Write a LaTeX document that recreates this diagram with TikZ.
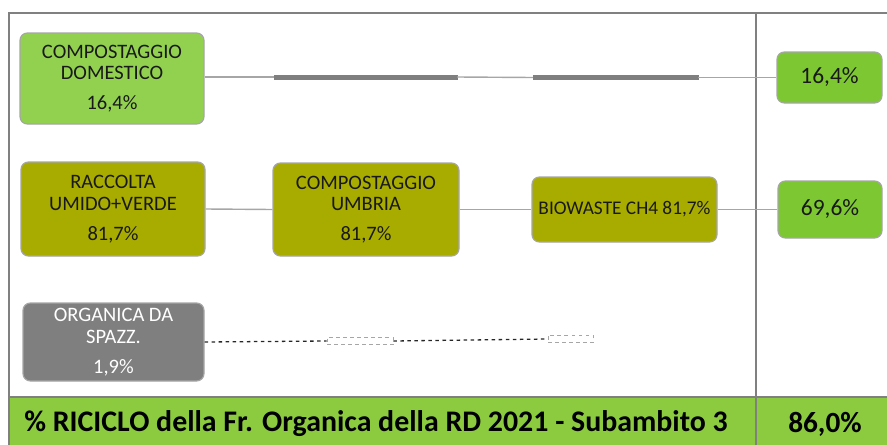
\documentclass[tikz,border=0pt]{standalone}
\usepackage{fontspec}
\setmainfont{Carlito}
\usepackage{tikz}
\usetikzlibrary{positioning}
\definecolor{lgreen}{HTML}{92D050}
\definecolor{rgreen}{HTML}{7DC832}
\definecolor{bandgreen}{HTML}{8CCB3F}
\definecolor{olive}{HTML}{A9AC00}
\definecolor{boxgray}{HTML}{7F7F7F}
\definecolor{framegray}{HTML}{808080}
\definecolor{linkgray}{HTML}{A6A6A6}
\tikzset{
	flowbox/.style={draw=linkgray, line width=1pt, rounded corners=0.22cm, align=center,
		font=\fontsize{17.5}{18.5}\selectfont, text=black!90, inner sep=0pt},
	outbox/.style={flowbox, fill=rgreen, font=\fontsize{20}{21}\selectfont},
	flatbar/.style={fill=boxgray, draw=boxgray, inner sep=0pt, minimum height=0.13cm},
	ghost/.style={draw=black!35, dashed, line width=0.5pt, inner sep=0pt, minimum height=0.22cm},
	link/.style={draw=linkgray, line width=1.2pt},
	droplink/.style={draw=black!85, dashed, line width=1.1pt}
}
\begin{document}
\begin{tikzpicture}[x=0.03cm, y=-0.03cm]
			\useasboundingbox (0,0) rectangle (887,445);
			% bottom band
			\filldraw[fill=bandgreen, draw=framegray, line width=1.5pt] (9,397) rectangle (890,448);
			\node (title) at (376,424) {\fontsize{25.5}{27}\selectfont\bfseries \% RICICLO della Fr. Organica della RD 2021 - Subambito 3};
			\node (total) at (825,424) {\fontsize{25}{27}\selectfont\bfseries 86,0\%};
			% frame
			\draw[framegray, line width=2pt] (9,445) -- (9,13) -- (890,13);
			\draw[framegray, line width=1.5pt] (756,13) -- (756,445);
			% boxes
			\node[flowbox, fill=lgreen, minimum width=184*0.03cm, minimum height=91*0.03cm] (dom) at (112,78.5)
				{COMPOSTAGGIO\\DOMESTICO\\[7pt]16,4\%};
			\node[outbox, minimum width=105*0.03cm, minimum height=51*0.03cm] (domout) at (829.5,77.5) {16,4\%};
			\node[flowbox, fill=olive, minimum width=184*0.03cm, minimum height=94*0.03cm] (rac) at (113,209)
				{RACCOLTA\\UMIDO+VERDE\\[7pt]81,7\%};
			\node[flowbox, fill=olive, minimum width=186*0.03cm, minimum height=93*0.03cm] (umb) at (366,209.5)
				{COMPOSTAGGIO\\UMBRIA\\[7pt]81,7\%};
			\node[flowbox, fill=olive, font=\fontsize{16.5}{17.5}\selectfont, minimum width=185*0.03cm, minimum height=65*0.03cm] (bio) at (624.5,209.5)
				{BIOWASTE CH4 81,7\%};
			\node[outbox, minimum width=104*0.03cm, minimum height=57*0.03cm] (bioout) at (830,209.5) {69,6\%};
			\node[flowbox, fill=boxgray, text=white, minimum width=181*0.03cm, minimum height=78*0.03cm] (spz) at (113.5,342)
				{ORGANICA DA\\SPAZZ.\\[7pt]1,9\%};
			% collapsed steps
			\node[flatbar, minimum width=183*0.03cm] (bar1) at (365.5,77) {};
			\node[flatbar, minimum width=165*0.03cm] (bar2) at (615.5,77.5) {};
			\node[ghost, minimum width=66*0.03cm] (gh1) at (360,341) {};
			\node[ghost, minimum width=45*0.03cm] (gh2) at (570.5,339) {};
			% links
			\draw[link] (dom.east |- bar1) -- (bar1.west);
			\draw[link] (bar1.east) -- (bar2.west);
			\draw[link] (bar2.east) -- (domout.west);
			\draw[link] (rac.east) -- (umb.west);
			\draw[link] (umb.east) -- (bio.west);
			\draw[link] (bio.east) -- (bioout.west);
			\draw[droplink] (spz.east) -- (gh1.west);
			\draw[droplink] (gh1.east) -- (gh2.west);
		\end{tikzpicture}
\end{document}
